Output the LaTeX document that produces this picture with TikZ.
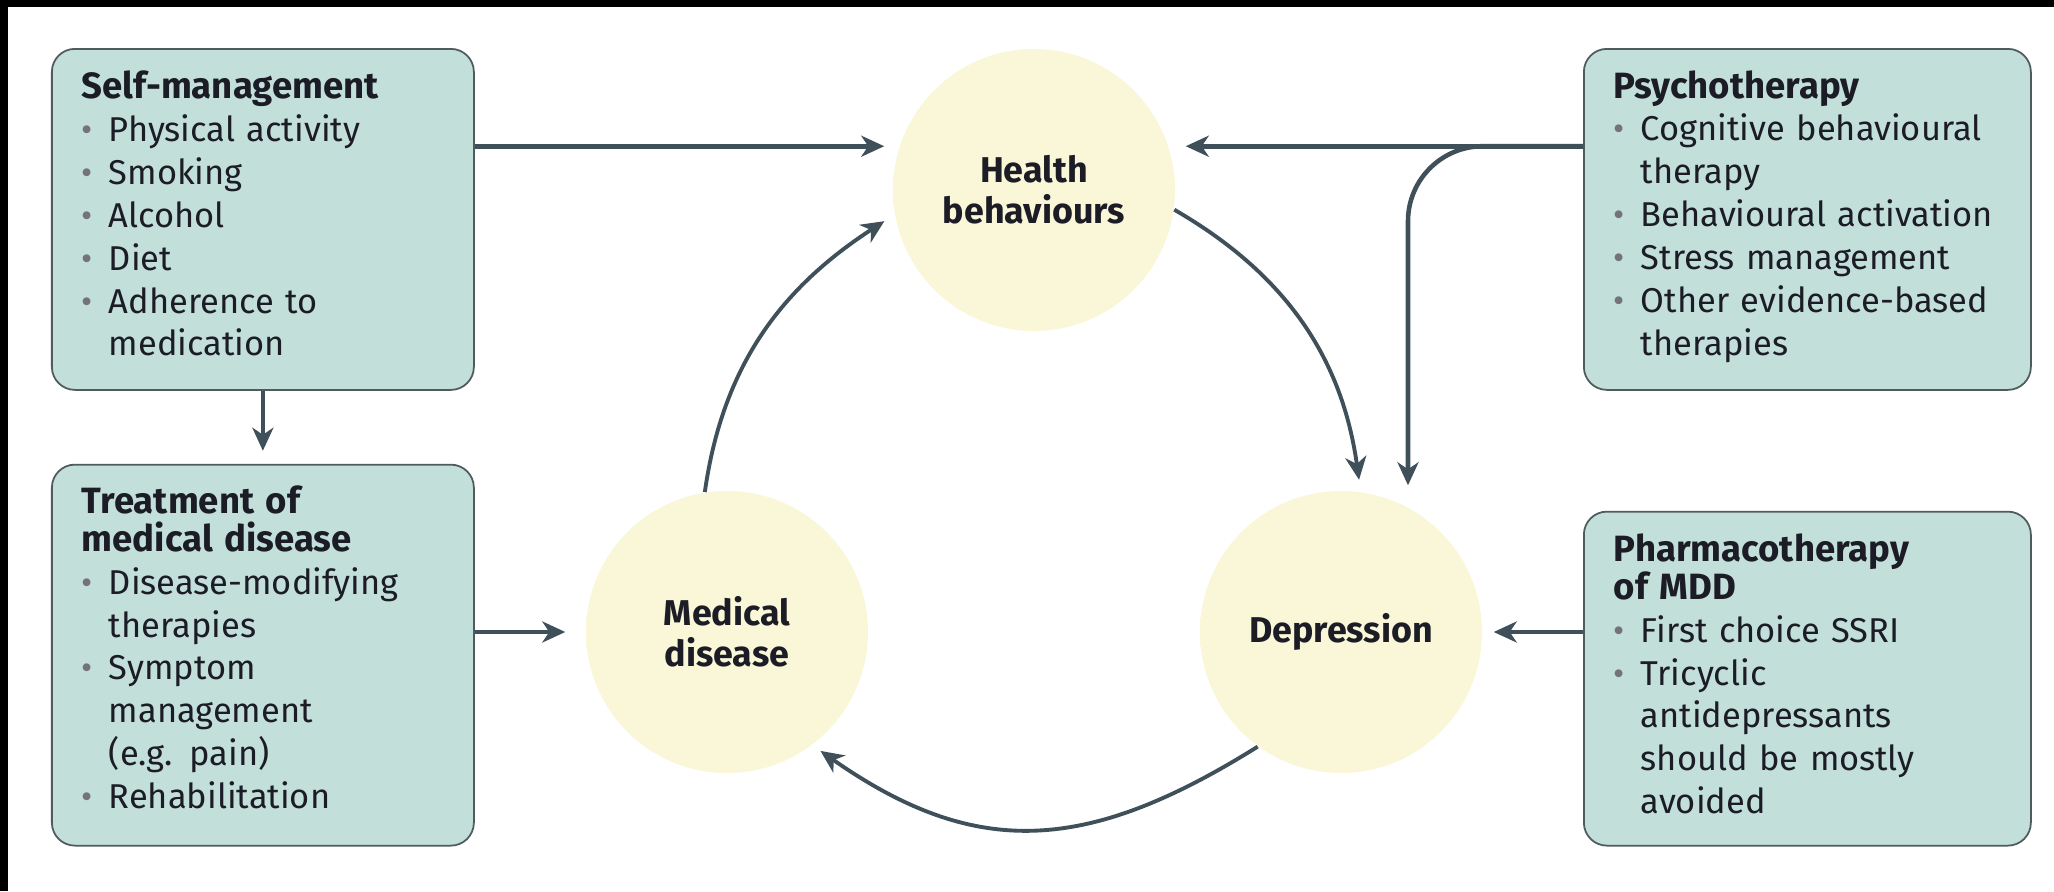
\documentclass[tikz,border=0pt]{standalone}
\usepackage{fontspec}
\setmainfont{Fira Sans}
\usetikzlibrary{arrows.meta, positioning, calc}

\definecolor{boxfill}{HTML}{C2DFDA}
\definecolor{boxline}{HTML}{4F5B5E}
\definecolor{arrowcol}{HTML}{3F505B}
\definecolor{bubin}{HTML}{F9F7D8}
\definecolor{bubout}{HTML}{F2EBA2}
\definecolor{bulgray}{HTML}{74737C}
\definecolor{txt}{HTML}{1C1C26}

\pgfdeclareradialshading{bubble}{\pgfpoint{0bp}{0bp}}{color(0bp)=(bubin); color(31bp)=(bubin); color(50bp)=(bubout)}

\newcommand{\itm}{\makebox[0.27cm][l]{\textcolor{bulgray}{\textbullet}}}
\newcommand{\cont}{\hspace*{0.27cm}}
\newcommand{\hd}[1]{{\fontsize{10.4}{12.2}\selectfont\bfseries #1}}
\newcommand{\lift}[1]{\rule[-#1]{0pt}{0pt}}

\tikzset{
    infobox/.style={
        draw=boxline,
        line width=0.5pt,
        fill=boxfill,
        rounded corners=0.23cm,
        text width=#1,
        inner xsep=0.3cm,
        inner ysep=0pt,
        align=left,
        anchor=north west,
        text=txt,
        font=\fontsize{9.8}{12.2}\selectfont
    },
    bubble/.style={
        circle,
        minimum size=2.82cm,
        inner sep=0pt,
        shading=bubble,
        align=center,
        text=txt,
        font=\fontsize{10.2}{11.6}\selectfont\bfseries
    },
    arr/.style={-{Stealth[length=0.23cm, width=0.21cm, inset=0.07cm]}, line width=1.3pt, draw=arrowcol},
    arc/.style={arr, line width=1.1pt}
}

\begin{document}
\begin{tikzpicture}
\useasboundingbox (0,0) rectangle (20.54,8.91);
\fill[black] (0,0) rectangle (20.54,8.91);
\fill[white] (0.08,0) rectangle (20.54,8.84);

% the three states
\node[bubble] (hb) at (10.34,7.01) {Health\\behaviours};
\node[bubble] (med) at (7.27,2.59) {Medical\\disease};
\node[bubble] (dep) at (13.41,2.59) {Depression};

% interventions
\node[infobox=3.62cm, minimum height=3.41cm] (self) at (0.51,8.43) {%
    \hd{Self-management}\\
    \itm Physical activity\\
    \itm Smoking\\
    \itm Alcohol\\
    \itm Diet\\
    \itm Adherence to\\
    \cont medication\lift{0.12cm}};
\node[infobox=3.62cm, minimum height=3.81cm, below=0.73cm of self] (trt) {%
    \hd{Treatment of}\\[-1.4pt]
    \hd{medical disease}\\
    \itm Disease-modifying\\
    \cont therapies\\
    \itm Symptom\\
    \cont management\\
    \cont (e.g. pain)\\
    \itm Rehabilitation\lift{0.16cm}};
\node[infobox=3.87cm, minimum height=3.41cm] (psy) at (15.83,8.43) {%
    \hd{Psychotherapy}\\
    \itm Cognitive behavioural\\
    \cont therapy\\
    \itm Behavioural activation\\
    \itm Stress management\\
    \itm Other evidence-based\\
    \cont therapies\lift{0.13cm}};
\node[infobox=3.87cm, minimum height=3.34cm, below=1.2cm of psy] (pha) {%
    \hd{Pharmacotherapy}\\[-1.4pt]
    \hd{of MDD}\\
    \itm First choice SSRI\\
    \itm Tricyclic\\
    \cont antidepressants\\
    \cont should be mostly\\
    \cont avoided\lift{0.1cm}};

% straight links
\draw[arr] (self.east |- hb.162) -- ([xshift=-1.5mm]hb.162);
\draw[arr] (self.south) -- ([yshift=1.3mm]trt.north);
\draw[arr] (trt.east |- med.west) -- ([xshift=-2mm]med.west);
\draw[arr] (psy.west |- hb.18) -- ([xshift=1.7mm]hb.18);
\draw[arr, rounded corners=0.75cm] (psy.west |- hb.18) -| ($(dep.north)+(0.67,0.05)$);
\draw[arr] (pha.west |- dep.east) -- ([xshift=1.1mm]dep.east);

% the cycle
\draw[arc, shorten >=0.12cm] (med.99) to[out=82, in=213] (hb.190);
\draw[arc, shorten >=0.12cm] (hb.-8) to[out=-30, in=98] (dep.82);
\draw[arc, shorten >=0.1cm, looseness=1.15] (dep.234) to[out=212, in=-35] (med.-53);
\end{tikzpicture}
\end{document}
